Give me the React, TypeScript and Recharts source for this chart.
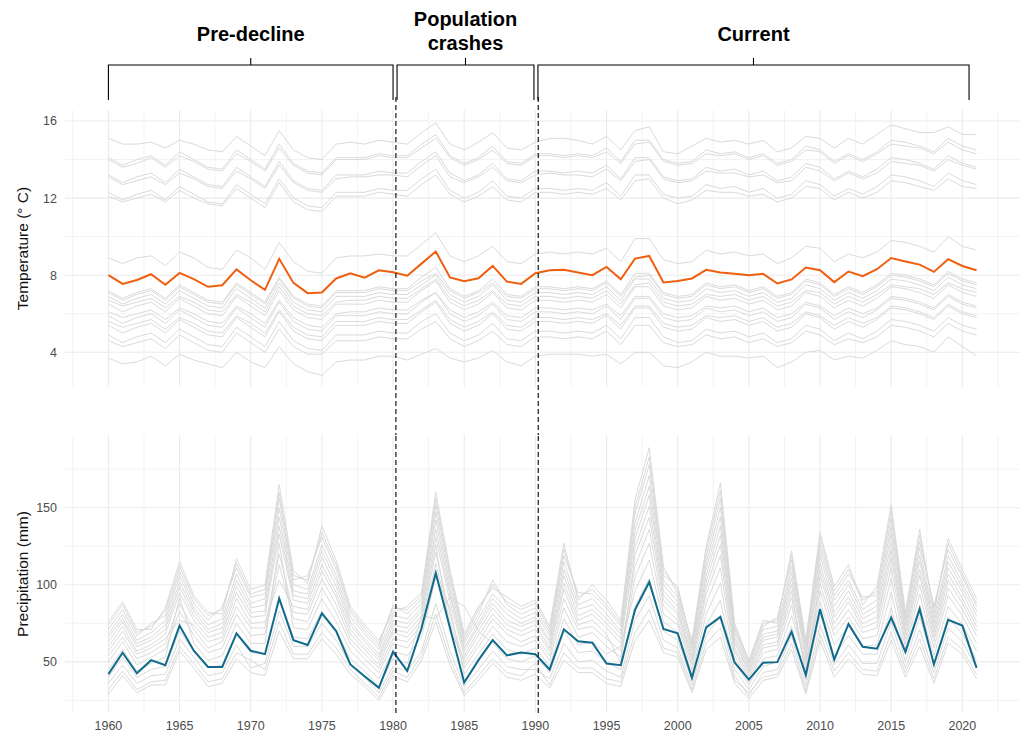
import React from 'react';
import { LineChart, Line, XAxis, YAxis, CartesianGrid, ReferenceLine, ReferenceArea } from 'recharts';

const FONT = '"Liberation Sans", Arial, Helvetica, sans-serif';

// ---------- data ----------
const years = [
  1960, 1961, 1962, 1963, 1964, 1965, 1966, 1967, 1968, 1969,
  1970, 1971, 1972, 1973, 1974, 1975, 1976, 1977, 1978, 1979,
  1980, 1981, 1982, 1983, 1984, 1985, 1986, 1987, 1988, 1989,
  1990, 1991, 1992, 1993, 1994, 1995, 1996, 1997, 1998, 1999,
  2000, 2001, 2002, 2003, 2004, 2005, 2006, 2007, 2008, 2009,
  2010, 2011, 2012, 2013, 2014, 2015, 2016, 2017, 2018, 2019,
  2020, 2021,
];

const xTicks = [1957.5, 1960, 1962.5, 1965, 1967.5, 1970, 1972.5, 1975, 1977.5, 1980, 1982.5, 1985, 1987.5, 1990, 1992.5, 1995, 1997.5, 2000, 2002.5, 2005, 2007.5, 2010, 2012.5, 2015, 2017.5, 2020, 2022.5];
const tempTicks = [4, 6, 8, 10, 12, 14, 16];
const tempLabelled = [4, 8, 12, 16];
const precipTicks = [25, 50, 75, 100, 125, 150, 175];
const precipLabelled = [50, 100, 150];

const periodBreaks = [1980.2, 1990.2];
const periodNames = [['Pre-decline'], ['Population', 'crashes'], ['Current']];
const periodStart = [1960, 1980.28, 1990.18];
const periodEnd = [1980, 1989.9, 2020.47];

// highlighted site
const tempHighlight = [
  8.0, 7.55, 7.75, 8.05, 7.5, 8.12, 7.8, 7.4, 7.48, 8.3,
  7.74, 7.24, 8.85, 7.6, 7.07, 7.1, 7.83, 8.1, 7.87, 8.25,
  8.15, 7.97, 8.6, 9.23, 7.88, 7.69, 7.84, 8.48, 7.67, 7.55,
  8.1, 8.26, 8.28, 8.14, 8.0, 8.43, 7.79, 8.86, 9.0, 7.62,
  7.7, 7.83, 8.28, 8.14, 8.07, 8.0, 8.07, 7.57, 7.78, 8.4,
  8.26, 7.64, 8.19, 7.95, 8.31, 8.89, 8.71, 8.55, 8.17, 8.83,
  8.48, 8.26,
];
const precipHighlight = [
  42, 55.9, 42.6, 51.1, 47.8, 73.5, 57.2, 46.7, 46.7, 68.5,
  57.2, 55, 91.1, 64.1, 60.9, 81.5, 70, 48.3, 40.7, 33.1,
  56.5, 44.1, 71.8, 107.6, 72, 36.6, 51.1, 64.1, 54.2, 56.1,
  55, 45, 71.1, 63.3, 62.4, 48.9, 47.8, 83.7, 101.8, 71.3,
  68.5, 39.6, 72.4, 79.1, 49.6, 38.5, 49.4, 49.8, 69.6, 41.5,
  84.2, 51.5, 74.6, 59.8, 58.5, 78.7, 56.5, 84.2, 48.3, 77.2,
  73.5, 46.1,
];

// other sites: temperature
const tempT1 = [15.1,14.8,14.8,14.9,14.6,15.0,14.8,14.5,14.4,15.2, 14.7,14.2,15.5,14.5,14.1,14.0,14.8,14.9,14.8,15.0, 14.9,14.8,15.4,15.9,14.8,14.5,14.9,15.4,14.6,14.5, 14.9,15.1,15.1,15.0,14.8,15.2,14.5,15.5,15.7,14.4, 14.3,14.7,15.1,14.9,15.0,14.8,15.0,14.4,14.6,15.2, 15.1,14.6,15.1,14.8,15.3,15.8,15.6,15.4,15.4,15.7, 15.3,15.3];
const tempT2 = [14.1,13.7,14.0,14.2,13.7,14.4,14.0,13.6,13.5,14.5, 14.0,13.5,14.8,13.8,13.4,13.3,14.1,14.1,14.1,14.3, 14.2,14.2,14.8,15.3,14.2,13.8,14.1,14.7,13.9,13.8, 14.3,14.3,14.2,14.3,14.2,14.6,13.9,15.0,15.0,14.0, 13.8,13.9,14.5,14.3,14.4,14.1,14.3,13.8,14.0,14.7, 14.5,13.9,14.3,14.0,14.4,15.0,14.9,14.7,14.4,15.1, 14.7,14.5];
const tempT3 = [14.0,13.6,13.8,14.1,13.6,14.2,13.9,13.5,13.4,14.3, 13.9,13.4,14.6,13.7,13.3,13.2,14.0,14.0,14.0,14.2, 14.1,14.1,14.6,15.1,14.1,13.7,14.0,14.5,13.8,13.7, 14.2,14.2,14.1,14.2,14.1,14.4,13.8,14.8,14.9,13.9, 13.7,13.8,14.3,14.2,14.3,14.0,14.2,13.7,13.9,14.5, 14.4,13.8,14.2,13.9,14.3,14.8,14.7,14.6,14.3,14.9, 14.5,14.3];
const tempT4 = [13.2,12.8,13.1,13.3,12.8,13.5,13.1,12.7,12.6,13.6, 13.1,12.6,13.9,12.9,12.5,12.4,13.2,13.2,13.2,13.4, 13.3,13.3,13.9,14.4,13.3,12.9,13.2,13.8,13.0,12.9, 13.4,13.4,13.3,13.4,13.3,13.7,13.0,14.1,14.1,13.1, 12.9,13.0,13.6,13.4,13.5,13.2,13.4,12.9,13.1,13.8, 13.6,13.0,13.4,13.1,13.5,14.1,14.0,13.8,13.5,14.2, 13.8,13.6];
const tempT5 = [13.1,12.7,12.9,13.1,12.7,13.3,13.0,12.6,12.5,13.4, 13.0,12.5,13.7,12.8,12.4,12.3,13.0,13.1,13.1,13.2, 13.2,13.1,13.7,14.2,13.1,12.8,13.1,13.6,12.9,12.8, 13.2,13.3,13.2,13.2,13.1,13.5,12.9,13.9,14.0,13.0, 12.8,12.9,13.4,13.3,13.3,13.1,13.2,12.8,12.9,13.6, 13.4,12.9,13.3,13.0,13.3,13.9,13.8,13.7,13.4,14.0, 13.7,13.5];
const tempT6 = [12.3,11.9,12.2,12.4,11.9,12.6,12.2,11.8,11.7,12.7, 12.2,11.7,13.0,12.0,11.6,11.5,12.3,12.3,12.3,12.5, 12.4,12.4,13.0,13.5,12.4,12.0,12.3,12.9,12.1,12.0, 12.5,12.5,12.4,12.5,12.4,12.8,12.1,13.2,13.2,12.2, 12.0,12.1,12.7,12.5,12.6,12.3,12.5,12.0,12.2,12.9, 12.7,12.1,12.5,12.2,12.6,13.2,13.1,12.9,12.6,13.3, 12.9,12.7];
const tempT7 = [12.1,11.8,12.0,12.2,11.8,12.4,12.0,11.7,11.6,12.5, 12.0,11.5,12.8,11.8,11.4,11.3,12.1,12.1,12.1,12.3, 12.2,12.1,12.7,13.2,12.2,11.8,12.1,12.6,11.9,11.8, 12.3,12.3,12.2,12.3,12.2,12.5,11.9,12.9,13.0,12.0, 11.7,11.9,12.4,12.3,12.3,12.1,12.2,11.8,12.0,12.6, 12.5,11.9,12.3,12.0,12.3,12.9,12.8,12.6,12.4,13.0, 12.6,12.5];
const tempL1 = [8.9,8.6,8.9,9.0,8.5,9.2,8.9,8.4,8.3,9.3, 8.9,8.3,9.7,8.7,8.2,8.1,8.9,9.0,9.0,9.1, 9.0,9.0,9.6,10.2,9.0,8.7,9.0,9.5,8.7,8.6, 9.1,9.2,9.1,9.2,9.1,9.4,8.7,9.9,9.9,8.8, 8.6,8.7,9.3,9.1,9.2,9.0,9.1,8.6,8.9,9.5, 9.4,8.7,9.1,8.9,9.2,9.8,9.7,9.5,9.2,10.0, 9.5,9.3];
const tempL2 = [7.2,6.8,7.1,7.3,6.8,7.5,7.1,6.7,6.6,7.6, 7.1,6.6,7.9,6.9,6.5,6.4,7.2,7.2,7.2,7.4, 7.3,7.3,7.9,8.4,7.3,6.9,7.2,7.8,7.0,6.9, 7.4,7.4,7.3,7.4,7.3,7.7,7.0,8.1,8.1,7.1, 6.9,7.0,7.6,7.4,7.5,7.2,7.4,6.9,7.1,7.8, 7.6,7.0,7.4,7.1,7.5,8.1,8.0,7.8,7.5,8.2, 7.8,7.6];
const tempL3 = [7.1,6.7,7.0,7.2,6.7,7.4,7.0,6.6,6.5,7.5, 7.0,6.5,7.8,6.8,6.4,6.3,7.1,7.1,7.1,7.3, 7.2,7.2,7.7,8.1,7.2,6.8,7.1,7.6,6.9,6.8, 7.3,7.3,7.2,7.3,7.2,7.6,6.9,7.9,8.0,7.0, 6.8,6.9,7.5,7.3,7.4,7.1,7.3,6.8,7.0,7.7, 7.5,6.9,7.3,7.0,7.4,8.0,7.9,7.7,7.4,8.1, 7.7,7.5];
const tempL4 = [6.9,6.5,6.8,7.0,6.5,7.2,6.8,6.4,6.3,7.3, 6.8,6.3,7.6,6.6,6.2,6.1,6.9,6.9,6.9,7.1, 7.0,7.0,7.5,8.0,7.0,6.6,6.9,7.5,6.7,6.6, 7.1,7.1,7.0,7.1,7.0,7.4,6.7,7.8,7.8,6.8, 6.6,6.7,7.3,7.1,7.2,6.9,7.1,6.6,6.8,7.5, 7.3,6.7,7.1,6.8,7.2,7.8,7.7,7.5,7.2,7.9, 7.5,7.3];
const tempL5 = [6.7,6.4,6.6,6.8,6.3,6.9,6.6,6.2,6.1,7.0, 6.6,6.1,7.4,6.4,6.0,5.9,6.6,6.7,6.7,6.9, 6.8,6.8,7.3,7.8,6.8,6.4,6.7,7.2,6.5,6.4, 6.9,6.9,6.8,6.9,6.8,7.2,6.5,7.5,7.6,6.6, 6.4,6.5,7.0,6.9,7.0,6.7,6.9,6.4,6.6,7.2, 7.1,6.5,6.9,6.6,7.0,7.5,7.4,7.3,7.0,7.6, 7.3,7.1];
const tempL6 = [6.5,6.1,6.4,6.6,6.1,6.8,6.4,6.0,5.9,6.9, 6.4,5.9,7.2,6.2,5.8,5.7,6.5,6.5,6.5,6.7, 6.6,6.6,7.2,7.7,6.6,6.2,6.5,7.1,6.3,6.2, 6.7,6.7,6.6,6.7,6.6,7.0,6.3,7.4,7.4,6.4, 6.2,6.3,6.9,6.7,6.8,6.5,6.7,6.2,6.4,7.1, 6.9,6.3,6.7,6.4,6.8,7.4,7.3,7.1,6.8,7.5, 7.1,6.9];
const tempL7 = [6.1,5.8,6.0,6.2,5.7,6.3,6.0,5.6,5.5,6.4, 6.0,5.5,6.7,5.8,5.4,5.3,6.0,6.1,6.1,6.3, 6.2,6.2,6.7,7.1,6.2,5.8,6.1,6.6,5.9,5.8, 6.3,6.3,6.2,6.3,6.2,6.5,5.9,6.9,6.9,6.0, 5.8,5.9,6.4,6.3,6.4,6.1,6.3,5.8,6.0,6.6, 6.4,5.9,6.3,6.0,6.3,6.9,6.8,6.6,6.3,7.0, 6.6,6.4];
const tempL8 = [5.9,5.5,5.8,6.0,5.5,6.2,5.8,5.4,5.3,6.3, 5.8,5.3,6.6,5.6,5.2,5.1,5.9,5.9,5.9,6.1, 6.0,6.0,6.6,7.1,6.0,5.6,5.9,6.5,5.7,5.6, 6.1,6.1,6.0,6.1,6.0,6.4,5.7,6.8,6.8,5.8, 5.6,5.7,6.3,6.1,6.2,5.9,6.1,5.6,5.8,6.5, 6.3,5.7,6.1,5.8,6.2,6.8,6.7,6.5,6.2,6.9, 6.5,6.3];
const tempL9 = [5.6,5.3,5.5,5.7,5.2,5.8,5.5,5.1,5.0,5.9, 5.5,5.0,6.2,5.3,4.9,4.8,5.6,5.6,5.6,5.8, 5.7,5.7,6.2,6.7,5.7,5.3,5.6,6.1,5.4,5.3, 5.8,5.8,5.7,5.8,5.7,6.0,5.4,6.4,6.4,5.5, 5.3,5.4,5.9,5.8,5.9,5.6,5.8,5.3,5.5,6.1, 5.9,5.4,5.8,5.5,5.8,6.4,6.3,6.1,5.8,6.5, 6.1,5.9];
const tempL10 = [5.4,5.0,5.3,5.5,5.0,5.7,5.3,4.9,4.8,5.8, 5.3,4.8,6.1,5.1,4.7,4.6,5.4,5.4,5.4,5.6, 5.5,5.5,6.1,6.6,5.5,5.1,5.4,6.0,5.2,5.1, 5.6,5.6,5.5,5.6,5.5,5.9,5.2,6.3,6.3,5.3, 5.1,5.2,5.8,5.6,5.7,5.4,5.6,5.1,5.3,6.0, 5.8,5.2,5.6,5.3,5.7,6.3,6.2,6.0,5.7,6.4, 6.0,5.8];
const tempL11 = [4.9,4.5,4.8,5.0,4.5,5.2,4.8,4.4,4.3,5.3, 4.8,4.3,5.6,4.6,4.2,4.1,4.9,4.9,4.9,5.1, 5.0,5.0,5.6,6.0,5.0,4.6,4.9,5.5,4.7,4.6, 5.1,5.1,5.0,5.1,5.0,5.4,4.7,5.8,5.8,4.8, 4.5,4.6,5.2,5.0,5.1,4.8,5.0,4.5,4.7,5.4, 5.2,4.6,5.0,4.7,5.1,5.7,5.6,5.4,5.1,5.8, 5.4,5.2];
const tempL12 = [4.6,4.3,4.5,4.7,4.2,4.9,4.5,4.1,4.0,5.0, 4.5,4.0,5.2,4.3,3.9,3.9,4.6,4.6,4.6,4.8, 4.7,4.7,5.2,5.6,4.7,4.3,4.6,5.1,4.4,4.3, 4.8,4.8,4.7,4.8,4.7,5.1,4.4,5.4,5.4,4.5, 4.3,4.4,4.9,4.7,4.8,4.5,4.7,4.3,4.5,5.1, 4.9,4.4,4.7,4.5,4.8,5.4,5.3,5.1,4.8,5.5, 5.1,4.9];
const tempL13 = [3.7,3.4,3.5,3.8,3.3,3.9,3.6,3.4,3.2,4.0, 3.5,3.2,4.3,3.4,3.0,2.8,3.5,3.6,3.6,3.8, 3.8,3.6,3.9,4.2,3.7,3.5,3.7,4.1,3.5,3.3, 3.8,3.9,3.9,3.9,3.8,3.9,3.4,4.0,4.0,3.3, 3.2,3.5,4.0,3.8,3.8,3.7,3.8,3.2,3.5,4.0, 4.1,3.6,3.8,3.7,4.1,4.6,4.4,4.3,4.0,4.8, 4.3,3.8];

// other sites: precipitation
const precipP0 = [29,41,30,35,35,57,46,34,36,52, 43,41,70,52,52,65,55,42,34,25, 41,37,51,76,48,28,38,49,40,38, 42,33,51,43,43,36,34,64,77,56, 53,30,58,66,36,26,38,40,58,29, 64,40,52,42,41,64,40,60,36,62, 55,39];
const precipP1 = [32,44,32,37,38,60,49,37,39,56, 51,45,76,55,55,69,59,45,36,27, 44,40,54,81,52,30,41,52,43,41, 49,35,56,46,46,39,37,69,84,59, 56,32,62,72,38,30,40,42,62,31, 68,44,56,45,44,69,43,65,39,66, 58,42];
const precipP2 = [36,48,36,41,42,65,53,41,43,61, 46,49,83,60,60,75,64,48,40,30, 47,44,57,88,57,34,45,57,47,45, 45,39,62,50,51,44,40,77,93,64, 59,35,67,80,41,28,43,45,67,34, 74,48,61,49,49,76,46,71,43,72, 63,46];
const precipP3 = [45,58,44,49,53,92,62,51,54,75, 62,62,127,72,71,91,76,57,48,39, 57,54,66,105,85,42,55,68,58,55, 59,47,78,61,63,55,60,96,116,76, 69,42,81,101,50,35,52,54,80,50, 89,61,73,60,61,95,55,87,54,86, 74,57];
const precipP4 = [50,63,48,53,58,83,67,56,59,81, 67,68,113,78,76,98,82,62,52,43, 62,59,71,114,76,46,60,73,63,60, 64,51,85,66,69,60,53,105,127,81, 74,45,88,111,54,37,56,58,87,45, 96,67,79,65,67,104,59,94,59,93, 80,62];
const precipP5 = [54,66,52,56,62,88,71,59,63,86, 72,72,120,82,81,104,87,65,55,46, 65,63,74,121,81,49,63,78,68,63, 67,54,91,71,73,65,57,112,136,86, 77,48,94,119,57,39,59,61,92,48, 101,71,84,69,72,111,62,100,63,98, 84,67];
const precipP6 = [57,70,55,59,65,77,74,63,66,91, 75,76,103,86,84,109,92,68,58,48, 69,66,77,126,70,52,67,81,71,67, 71,57,97,74,77,68,49,119,144,90, 81,50,98,126,59,41,61,63,96,41, 106,75,89,72,76,117,65,106,66,103, 88,70];
const precipP7 = [60,73,57,61,68,95,77,66,69,95, 79,80,133,90,88,113,95,71,60,51, 71,69,80,131,89,54,70,85,74,70, 74,59,101,77,81,72,62,124,151,93, 83,52,102,132,62,43,64,66,100,52, 110,79,92,75,79,122,68,110,69,107, 91,73];
const precipP8 = [63,76,60,64,71,99,80,69,72,99, 82,83,138,93,91,118,99,74,63,53, 74,72,83,136,93,57,73,88,77,73, 77,62,106,80,84,75,65,130,158,96, 86,54,106,138,64,44,66,68,104,54, 114,82,96,78,83,127,70,115,72,111, 95,76];
const precipP9 = [66,78,62,66,74,102,83,71,75,103, 85,87,144,96,94,122,103,76,65,55, 77,75,85,142,96,59,75,91,81,75, 79,64,110,84,87,78,68,135,164,100, 89,57,110,144,66,46,68,70,108,56, 119,86,100,81,86,133,73,119,75,115, 98,80];
const precipP10 = [68,81,64,69,77,106,85,74,78,107, 88,91,150,100,97,126,106,79,68,58, 80,78,88,147,100,62,78,94,84,78, 82,67,115,87,91,81,70,140,171,103, 92,59,114,150,69,47,71,73,112,58, 123,90,103,84,90,138,75,124,78,119, 101,83];
const precipP11 = [71,84,67,75,80,109,88,77,86,111, 92,94,156,103,106,131,110,82,70,60, 87,81,91,152,104,64,81,103,87,81, 85,69,119,95,94,85,73,146,178,106, 99,61,118,156,71,49,73,79,116,61, 127,93,107,92,93,143,78,128,86,123, 105,86];
const precipP12 = [74,87,69,73,83,112,91,80,84,114, 94,97,160,106,103,134,113,84,72,62, 85,84,93,156,107,66,84,100,89,84, 88,71,123,92,97,87,75,150,183,109, 97,62,122,161,73,50,75,77,119,62, 131,96,110,90,96,148,80,132,84,127, 107,88];
const precipP13 = [76,89,71,71,85,115,93,82,81,117, 97,100,165,109,101,138,116,86,74,64, 82,86,95,160,110,68,86,98,92,86, 90,73,127,90,100,90,77,155,189,112, 94,64,125,166,75,51,77,75,122,64, 134,99,113,87,99,152,82,136,81,130, 110,91];
const precipP14 = [40,53,40,45,47,70,57,46,48,68, 56,55,92,66,65,83,70,52,44,34, 52,49,80,78,92,86,70,62,52,50, 54,43,70,56,57,50,45,86,104,70, 64,38,74,90,45,32,47,50,73,38, 81,54,67,55,55,85,50,79,49,79, 68,51];

const tempGrey = [tempT1, tempT2, tempT3, tempT4, tempT5, tempT6, tempT7, tempL1, tempL2, tempL3, tempL4, tempL5, tempL6, tempL7, tempL8, tempL9, tempL10, tempL11, tempL12, tempL13];
const precipGrey = [precipP0, precipP1, precipP2, precipP3, precipP4, precipP5, precipP6, precipP7, precipP8, precipP9, precipP10, precipP11, precipP12, precipP13, precipP14];

const rows = years.map((year, i) => {
  const r: Record<string, number> = { year, tHi: tempHighlight[i], pHi: precipHighlight[i] };
  tempGrey.forEach((s, k) => { r['t' + k] = s[i]; });
  precipGrey.forEach((s, k) => { r['p' + k] = s[i]; });
  return r;
});

// ---------- styling ----------
const GREY = '#d6d6d6';
const GRID = '#ebebeb';
const ORANGE = '#EF5F10';
const BLUE = '#0F6A8B';
const X_DOMAIN: [number, number] = [1956.95, 2024.05];
const xMajor = xTicks.filter((t) => t % 5 === 0);
const xMinor = xTicks.filter((t) => t % 5 !== 0);

const makeDash = (up: number, down: number) => (p: any) => {
  const ya = Math.min(p.y1, p.y2) - up;
  const yb = Math.max(p.y1, p.y2) + down;
  return <line x1={p.x1} x2={p.x2} y1={ya} y2={yb} stroke="#000" strokeWidth={1.1} strokeDasharray="5 3" />;
};

const makeBracket = (lines: string[]) => (p: any) => {
  const x0 = p.x;
  const x1 = p.x + p.width;
  const top = Math.min(p.y, p.y + p.height);
  const barY = top - 45;
  const cx = (x0 + x1) / 2;
  return (
    <g>
      <path d={`M${x0},${top - 10}V${barY}H${x1}V${top - 10}M${cx},${barY}V${barY - 7}`} fill="none" stroke="#000" strokeWidth={1.1} />
      {lines.map((t, i) => (
        <text key={i} x={cx} y={lines.length === 1 ? top - 69 : top - 84 + i * 24} textAnchor="middle" fontWeight="bold" fontSize={20} fill="#000" fontFamily={FONT}>
          {t}
        </text>
      ))}
    </g>
  );
};

const titleStyle = { textAnchor: 'middle' as const, fontSize: 15.5, fill: '#111', fontFamily: FONT };

export default function App() {
  return (
    <div style={{ position: 'absolute', left: 0, top: 0, width: 1026, height: 734, background: '#fff', fontFamily: FONT }}>
      <div style={{ position: 'absolute', left: 0, top: 0 }}>
        <LineChart width={1026} height={435} data={rows} margin={{ top: 110, right: 6, bottom: 48, left: 0 }}>
          <CartesianGrid stroke={GRID} strokeWidth={0.6} verticalValues={xMinor} horizontalValues={[6, 10, 14]} />
          <CartesianGrid stroke={GRID} strokeWidth={1.1} verticalValues={xMajor} horizontalValues={tempLabelled} />
          <XAxis dataKey="year" type="number" domain={X_DOMAIN} ticks={xTicks} hide />
          <YAxis
            type="number"
            domain={[2.2, 16.57]}
            ticks={tempTicks}
            interval={0}
            width={65}
            axisLine={false}
            tickLine={false}
            tick={{ fill: '#4d4d4d', fontSize: 12.5 }}
            tickFormatter={(v: number) => (tempLabelled.includes(v) ? String(v) : '')}
            label={{ value: 'Temperature (° C)', angle: -90, position: 'insideLeft', offset: 22, style: titleStyle }}
          />
          {tempGrey.map((_, k) => (
            <Line key={'t' + k} type="linear" dataKey={'t' + k} stroke={GREY} strokeWidth={0.9} dot={false} activeDot={false} isAnimationActive={false} />
          ))}
          <Line type="linear" dataKey="tHi" stroke={ORANGE} strokeWidth={2} dot={false} activeDot={false} isAnimationActive={false} />
          {periodBreaks.map((b) => (
            <ReferenceLine key={'b' + b} x={b} shape={makeDash(13, 48)} />
          ))}
          {periodNames.map((n, i) => (
            <ReferenceArea key={'a' + i} x1={periodStart[i]} x2={periodEnd[i]} shape={makeBracket(n)} />
          ))}
        </LineChart>
      </div>
      <div style={{ position: 'absolute', left: 0, top: 435 }}>
        <LineChart width={1026} height={299} data={rows} margin={{ top: 0, right: 6, bottom: 0, left: 0 }}>
          <CartesianGrid stroke={GRID} strokeWidth={0.6} verticalValues={xMinor} horizontalValues={[25, 75, 125, 175]} />
          <CartesianGrid stroke={GRID} strokeWidth={1.1} verticalValues={xMajor} horizontalValues={precipLabelled} />
          <XAxis
            dataKey="year"
            type="number"
            domain={X_DOMAIN}
            ticks={xTicks}
            interval={0}
            height={21}
            axisLine={false}
            tickLine={false}
            tick={{ fill: '#4d4d4d', fontSize: 12.5 }}
            tickFormatter={(v: number) => (v % 5 === 0 ? String(v) : '')}
          />
          <YAxis
            type="number"
            domain={[16.8, 197.2]}
            ticks={precipTicks}
            interval={0}
            width={65}
            axisLine={false}
            tickLine={false}
            tick={{ fill: '#4d4d4d', fontSize: 12.5 }}
            tickFormatter={(v: number) => (precipLabelled.includes(v) ? String(v) : '')}
            label={{ value: 'Precipitation (mm)', angle: -90, position: 'insideLeft', offset: 22, style: titleStyle }}
          />
          {precipGrey.map((_, k) => (
            <Line key={'p' + k} type="linear" dataKey={'p' + k} stroke={GREY} strokeWidth={0.9} dot={false} activeDot={false} isAnimationActive={false} />
          ))}
          <Line type="linear" dataKey="pHi" stroke={BLUE} strokeWidth={2} dot={false} activeDot={false} isAnimationActive={false} />
          {periodBreaks.map((b) => (
            <ReferenceLine key={'c' + b} x={b} stroke="#000" strokeWidth={1.1} strokeDasharray="5 3" />
          ))}
        </LineChart>
      </div>
    </div>
  );
}
